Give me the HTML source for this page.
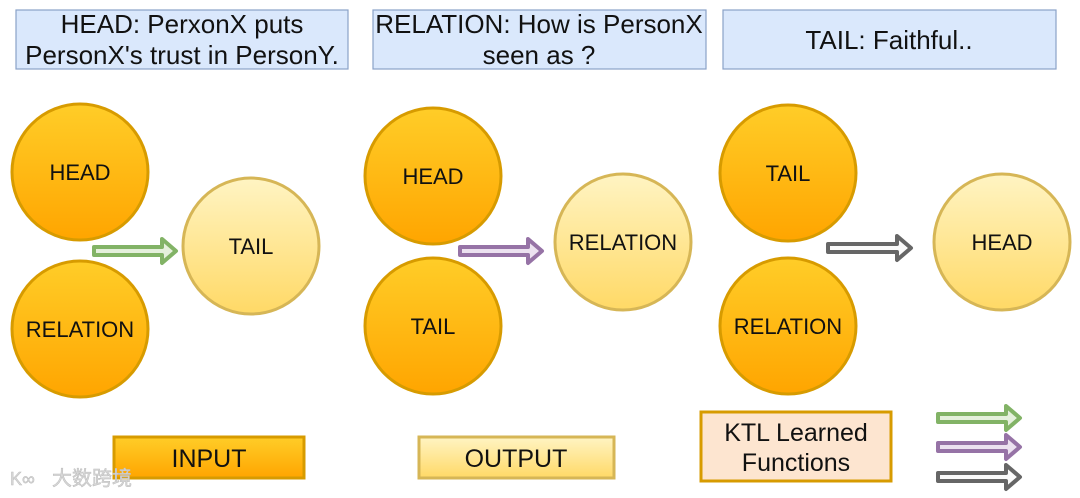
<!DOCTYPE html>
<html><head><meta charset="utf-8"><style>
body{margin:0;background:#fff;}
svg{display:block;font-family:"Liberation Sans","Noto Sans CJK SC",sans-serif;}
</style></head><body>
<svg width="1080" height="498" viewBox="0 0 1080 498" xmlns="http://www.w3.org/2000/svg">
<defs>
<linearGradient id="og" x1="0" y1="0" x2="0" y2="1"><stop offset="0" stop-color="#ffcd28"/><stop offset="1" stop-color="#ffa500"/></linearGradient>
<linearGradient id="yg" x1="0" y1="0" x2="0" y2="1"><stop offset="0" stop-color="#fff4c3"/><stop offset="1" stop-color="#ffd966"/></linearGradient>
</defs>
<g fill="#dae8fc" stroke="#8aa2c8" stroke-width="1.2">
<rect x="16" y="10" width="332" height="59"/>
<rect x="373" y="10" width="333" height="59"/>
<rect x="723" y="10" width="333" height="59"/>
</g>
<g font-size="26" fill="#111" text-anchor="middle">
<text x="182" y="33">HEAD: PerxonX puts</text>
<text x="182" y="64">PersonX's trust in PersonY.</text>
<text x="539" y="33">RELATION: How is PersonX</text>
<text x="539" y="64">seen as ?</text>
<text x="889" y="49">TAIL: Faithful..</text>
</g>
<g stroke="#d79b00" stroke-width="3" fill="url(#og)">
<circle cx="80" cy="172" r="68"/><circle cx="80" cy="329" r="68"/>
<circle cx="433" cy="176" r="68"/><circle cx="433" cy="326" r="68"/>
<circle cx="788" cy="173" r="68"/><circle cx="788" cy="326" r="68"/>
</g>
<g stroke="#d6b656" stroke-width="3" fill="url(#yg)">
<circle cx="251" cy="246" r="68"/><circle cx="623" cy="242" r="68"/><circle cx="1002" cy="242" r="68"/>
</g>
<g font-size="22" fill="#111" text-anchor="middle">
<text x="80" y="180">HEAD</text><text x="80" y="337">RELATION</text><text x="251" y="254">TAIL</text>
<text x="433" y="184">HEAD</text><text x="433" y="334">TAIL</text><text x="623" y="250">RELATION</text>
<text x="788" y="181">TAIL</text><text x="788" y="334">RELATION</text><text x="1002" y="250">HEAD</text>
</g>
<g stroke-width="4" stroke-linejoin="round">
<path d="M94,247 L162,247 L162,239 L176,251 L162,263 L162,255 L94,255 Z" fill="#e5f0dc" stroke="#82b366"/>
<path d="M460,247 L528,247 L528,239 L542,251 L528,263 L528,255 L460,255 Z" fill="#ece2f0" stroke="#9673a6"/>
<path d="M828,244 L897,244 L897,236 L911,248 L897,260 L897,252 L828,252 Z" fill="#fafafa" stroke="#666"/>
<path d="M938,414 L1006,414 L1006,406 L1020,418 L1006,430 L1006,422 L938,422 Z" fill="#e5f0dc" stroke="#82b366"/>
<path d="M938,443 L1006,443 L1006,435 L1020,447 L1006,459 L1006,451 L938,451 Z" fill="#ece2f0" stroke="#9673a6"/>
<path d="M938,473 L1006,473 L1006,465 L1020,477 L1006,489 L1006,481 L938,481 Z" fill="#fafafa" stroke="#666"/>
</g>
<rect x="114" y="437" width="190" height="41" fill="url(#og)" stroke="#d79b00" stroke-width="3"/>
<rect x="419" y="437" width="195" height="41" fill="url(#yg)" stroke="#d6b656" stroke-width="3"/>
<rect x="701" y="412" width="190" height="69" fill="#fde5d0" stroke="#d79b00" stroke-width="3"/>
<g font-size="25" fill="#111" text-anchor="middle">
<text x="209" y="467">INPUT</text>
<text x="516" y="467">OUTPUT</text>
<text x="796" y="441">KTL Learned</text>
<text x="796" y="471">Functions</text>
</g>
<text x="52" y="485" font-size="20" fill="#d8d8d8" stroke="#bbb" stroke-width="0.5">大数跨境</text>
<text x="10" y="485" font-size="18" fill="#d8d8d8" stroke="#bbb" stroke-width="0.5">K∞</text>
</svg>
</body></html>
